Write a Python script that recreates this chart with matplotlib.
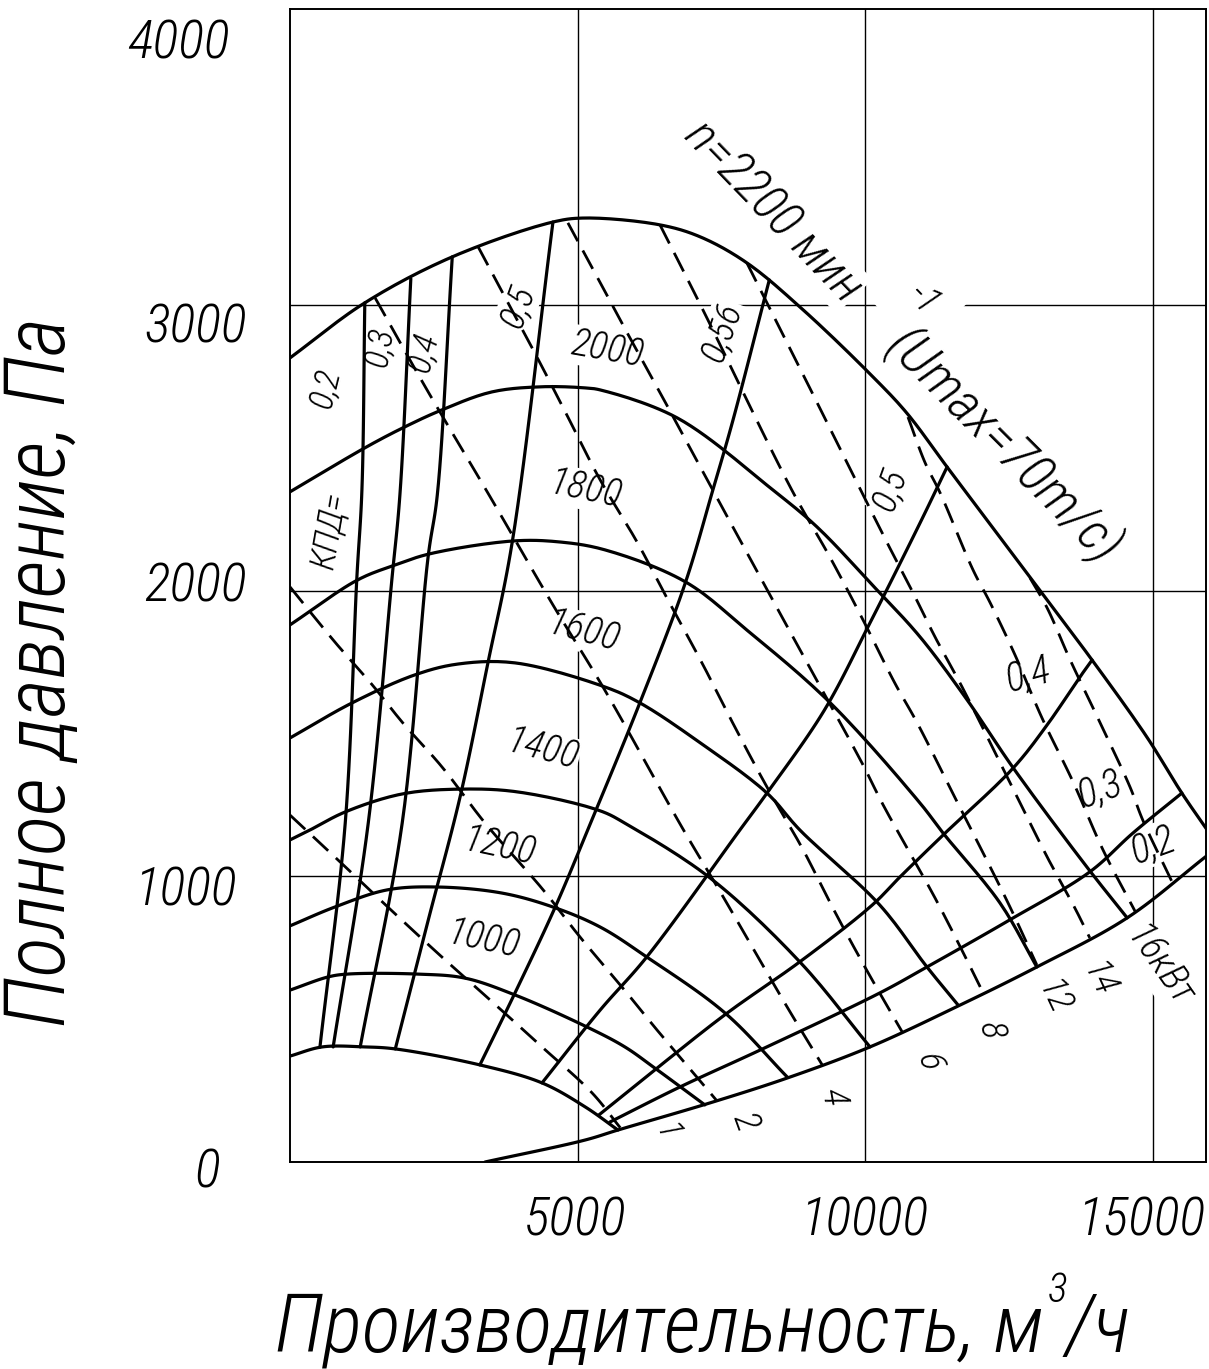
import numpy as np
import matplotlib.pyplot as plt
from matplotlib import font_manager
from matplotlib.transforms import ScaledTranslation

# --- fan characteristic: flow Q, m3/h ; total pressure P, Pa ---

# pressure curves at constant speed, rpm
q_n2200 = [0, 1300, 2820, 4570, 5130, 6430, 7130, 7940, 8920, 10130, 10720, 11420, 12110, 13160, 13940, 14890, 15500, 15940]
p_n2200 = [2816, 3009, 3170, 3292, 3306, 3282, 3240, 3149, 2984, 2750, 2623, 2434, 2249, 1968, 1758, 1489, 1292, 1163]
q_n2000 = [0, 1300, 1960, 2640, 3510, 4380, 5130, 5390, 6730, 8390, 9160, 10120, 10950, 11770, 12570, 13850, 14550]
p_n2000 = [2347, 2501, 2571, 2634, 2697, 2715, 2711, 2704, 2606, 2354, 2224, 2021, 1839, 1618, 1380, 1033, 855]
q_n1800 = [0, 1180, 1830, 2430, 3880, 4660, 5470, 6870, 7940, 9390, 10950, 11350, 12340, 12980]
p_n1800 = [1881, 2039, 2091, 2130, 2175, 2172, 2144, 2032, 1863, 1608, 1257, 1152, 907, 683]
q_n1600 = [0, 1080, 2170, 2920, 3910, 5470, 6080, 7130, 8290, 8860, 10250, 11070, 11610]
p_n1600 = [1485, 1608, 1706, 1744, 1748, 1664, 1608, 1468, 1292, 1163, 900, 683, 550]
q_n1400 = [0, 350, 960, 1950, 2990, 3960, 5390, 5860, 7300, 8860, 10080]
p_n1400 = [1128, 1163, 1226, 1289, 1306, 1296, 1230, 1182, 995, 701, 403]
q_n1200 = [0, 780, 1690, 2570, 3680, 4570, 5390, 6200, 7560, 8640]
p_n1200 = [827, 893, 953, 963, 942, 893, 823, 718, 522, 298]
q_n1000 = [0, 660, 990, 2230, 3040, 3910, 5160, 5820, 6340, 7210]
p_n1000 = [602, 648, 658, 658, 644, 585, 473, 403, 329, 200]
q_n800 = [0, 560, 1300, 1830, 3300, 4380, 5130, 5700]
p_n800 = [371, 403, 403, 396, 340, 277, 193, 112]

speed_labels = ['2000', '1800', '1600', '1400', '1200', '1000']

# efficiency isolines, left branch
q_eta02l = [520, 960, 1160, 1250, 1300]
p_eta02l = [402, 1187, 2039, 2354, 3009]
q_eta03l = [750, 1360, 1770, 1910, 2100]
p_eta03l = [403, 1187, 2039, 2336, 3094]
q_eta04l = [1220, 1950, 2400, 2560, 2820]
p_eta04l = [403, 1187, 2119, 2336, 3170]
q_eta05l = [1830, 2400, 2960, 3440, 3860, 4570]
p_eta05l = [396, 845, 1282, 1748, 2168, 3292]

# efficiency isolines, right branch
q_eta056 = [3300, 3910, 4610, 5230, 6080, 6870, 7350, 7700, 8330]
p_eta056 = [340, 592, 893, 1190, 1608, 2028, 2354, 2599, 3089]
q_eta05r = [4380, 5390, 6200, 7820, 8290, 9280, 10080, 10950, 11420]
p_eta05r = [277, 532, 718, 1163, 1292, 1580, 1888, 2238, 2434]
q_eta04r = [5370, 6380, 7600, 8860, 10120, 10600, 11350, 12570, 13160, 13730, 13940]
p_eta04r = [165, 329, 522, 701, 900, 998, 1145, 1380, 1531, 1699, 1758]
q_eta03r = [5560, 6780, 8170, 10250, 11070, 12510, 13900, 14650, 15500]
p_eta03r = [140, 263, 392, 592, 683, 848, 1016, 1152, 1292]
q_eta02r = [3390, 5130, 5700, 7300, 8640, 10080, 11650, 12980, 14550, 15950]
p_eta02r = [0, 77, 112, 207, 294, 403, 550, 683, 855, 1075]

# shaft power isolines, kW
q_pw1 = [0, 870, 1700, 2640, 3480, 4380, 5250, 5740]
p_pw1 = [1215, 1051, 893, 718, 567, 403, 242, 120]
q_pw2 = [0, 780, 1430, 1960, 2640, 3390, 4400, 5040, 5770, 6380, 7070, 7420]
p_pw2 = [2014, 1821, 1671, 1538, 1384, 1187, 953, 788, 613, 462, 298, 214]
q_pw4 = [1480, 2350, 3480, 4570, 5470, 6810, 7530, 8640, 9250]
p_pw4 = [3026, 2715, 2329, 1951, 1653, 1173, 928, 543, 340]
q_pw6 = [3270, 3650, 4290, 4830, 5390, 6030, 6570, 7160, 7730, 8290, 8900, 9470, 10050, 10650]
p_pw6 = [3205, 3061, 2820, 2609, 2389, 2172, 1968, 1748, 1524, 1313, 1100, 876, 662, 452]
q_pw8 = [4830, 5300, 5860, 6470, 7470, 8740, 9940, 10310, 11210, 11780, 12040]
p_pw8 = [3289, 3114, 2904, 2680, 2308, 1839, 1398, 1250, 925, 701, 595]
q_pw12 = [6430, 7160, 8720, 9390, 9960, 10510, 10900, 11560, 12480, 12980]
p_pw12 = [3282, 2991, 2354, 2116, 1898, 1678, 1538, 1275, 907, 690]
q_pw14 = [7940, 8640, 9110, 10380, 10830, 11210, 11680, 12690, 13160, 13640, 13900]
p_pw14 = [3149, 2869, 2680, 2168, 1993, 1839, 1664, 1257, 1068, 890, 785]
q_pw16 = [10740, 11040, 11300, 11870, 12170, 12600, 13070, 13610, 14130, 14690]
p_pw16 = [2609, 2448, 2343, 2074, 1958, 1776, 1555, 1331, 1093, 877]
q_pw_edge = [12860, 13160, 13560, 14080, 14600, 14820, 15330]
p_pw_edge = [2046, 1940, 1758, 1538, 1313, 1198, 981]

x_ticks = [5000, 10000, 15000]
y_ticks = [0, 1000, 2000, 3000, 4000]


# narrow face if there is one; font sizes below are for narrow metrics
installed = {f.name for f in font_manager.fontManager.ttflist}
face, k = 'Liberation Sans', 0.83
for name, scale in [('Liberation Sans Narrow', 1.0), ('Roboto Condensed', 0.93),
                    ('Open Sans Condensed', 0.95)]:
    if name in installed:
        face, k = name, scale
        break
plt.rcParams['font.family'] = [face, 'DejaVu Sans']
plt.rcParams['font.style'] = 'italic'
plt.rcParams['font.weight'] = 'light'


def smooth(q, p, n=14):
    # centripetal Catmull-Rom through the read points, in near-isotropic units
    pts = np.column_stack([np.asarray(q, float) * 0.0575, np.asarray(p, float) * 0.285])
    pts = np.vstack([2 * pts[0] - pts[1], pts, 2 * pts[-1] - pts[-2]])
    out = []
    for i in range(len(pts) - 3):
        P0, P1, P2, P3 = pts[i:i + 4]
        t0 = 0.0
        t1 = t0 + np.linalg.norm(P1 - P0) ** 0.5 + 1e-9
        t2 = t1 + np.linalg.norm(P2 - P1) ** 0.5 + 1e-9
        t3 = t2 + np.linalg.norm(P3 - P2) ** 0.5 + 1e-9
        t = np.linspace(t1, t2, n, endpoint=False)[:, None]
        A1 = (t1 - t) / (t1 - t0) * P0 + (t - t0) / (t1 - t0) * P1
        A2 = (t2 - t) / (t2 - t1) * P1 + (t - t1) / (t2 - t1) * P2
        A3 = (t3 - t) / (t3 - t2) * P2 + (t - t2) / (t3 - t2) * P3
        B1 = (t2 - t) / (t2 - t0) * A1 + (t - t0) / (t2 - t0) * A2
        B2 = (t3 - t) / (t3 - t1) * A2 + (t - t1) / (t3 - t1) * A3
        out.append((t2 - t) / (t2 - t1) * B1 + (t - t1) / (t2 - t1) * B2)
    out.append(pts[-2][None])
    out = np.vstack(out)
    return out[:, 0] / 0.0575, out[:, 1] / 0.285


W, H = 1209, 1369
fig = plt.figure(figsize=(W / 100, H / 100), dpi=100)
ax = fig.add_axes([290 / W, 1 - 1162 / H, (1206 - 290) / W, (1162 - 9) / H])
ax.set_xlim(0, 15920)
ax.set_ylim(0, 4038)

ax.set_xticks(x_ticks)
ax.set_yticks(y_ticks)
ax.set_xticklabels([str(v) for v in x_ticks])
ax.set_yticklabels([str(v) for v in y_ticks])
ax.tick_params(length=0, labelsize=42 * k)
ax.tick_params(axis='x', pad=24)
ax.tick_params(axis='y', pad=36)
ax.set_axisbelow(True)
ax.grid(True, color='black', lw=1.0)
ax.yaxis.get_gridlines()[-1].set_visible(False)

# hand-lettered labels sit a little off their grid lines
for lbl, (dx, dy) in zip(ax.get_yticklabels(), [(-20, 5), (-3, 9), (7, -9), (7, 17), (-10, 19)]):
    lbl.set_transform(lbl.get_transform() + ScaledTranslation(dx / 100, -dy / 100, fig.dpi_scale_trans))
for lbl, dx in zip(ax.get_xticklabels(), [-3, -1, -12]):
    lbl.set_transform(lbl.get_transform() + ScaledTranslation(dx / 100, 0, fig.dpi_scale_trans))
for s in ax.spines.values():
    s.set_linewidth(1.4)

solid = dict(color='black', lw=2.3, zorder=3, solid_capstyle='round')
dashed = dict(color='black', lw=2.0, zorder=3, dashes=(7.5, 3.8))

speed_curves = [(q_n2200, p_n2200), (q_n2000, p_n2000), (q_n1800, p_n1800), (q_n1600, p_n1600),
                (q_n1400, p_n1400), (q_n1200, p_n1200), (q_n1000, p_n1000), (q_n800, p_n800)]
eta_lines = [(q_eta02l, p_eta02l), (q_eta03l, p_eta03l), (q_eta04l, p_eta04l), (q_eta05l, p_eta05l),
             (q_eta056, p_eta056), (q_eta05r, p_eta05r), (q_eta04r, p_eta04r), (q_eta03r, p_eta03r),
             (q_eta02r, p_eta02r)]
power_lines = [(q_pw1, p_pw1), (q_pw2, p_pw2), (q_pw4, p_pw4), (q_pw6, p_pw6), (q_pw8, p_pw8),
               (q_pw12, p_pw12), (q_pw14, p_pw14), (q_pw16, p_pw16), (q_pw_edge, p_pw_edge)]

for q, p in speed_curves + eta_lines:
    ax.plot(*smooth(q, p), **solid)
for q, p in power_lines:
    ax.plot(*smooth(q, p), **dashed)


def note(s, q, p, rot, size=28, pad=1.0):
    ax.text(q, p, s, rotation=rot, fontsize=size * k, ha='center', va='center',
            rotation_mode='anchor', zorder=2,
            bbox=dict(facecolor='white', edgecolor='none', pad=pad))


# speed labels
for s, (q, p, r) in zip(speed_labels, [(5510, 2844, -10), (5130, 2354, -12), (5090, 1856, -15),
                                       (4380, 1443, -15), (3630, 1103, -12), (3350, 778, -12)]):
    note(s, q, p, r, 30)

note('n=2200 мин', 8390, 3327, -46, 39)
note('-1', 11000, 3020, -46, 30, pad=14)
note('(Umax=70m/c)', 12390, 2504, -45, 42)

# efficiency labels
note('КПД=', 700, 2214, 80, 27)
note('0,2', 610, 2711, 76, 27)
note('0,3', 1560, 2855, 80, 27)
note('0,4', 2310, 2837, 76, 27)
note('0,5', 3960, 2995, 70, 29)
note('0,56', 7510, 2907, 70, 29)
note('0,5', 10430, 2354, 70, 29)
note('0,4', 12830, 1706, 15, 31)
note('0,3', 14080, 1303, 20, 31)
note('0,2', 15000, 1110, 20, 31)

# power labels
note('1', 6520, 102, -70, 26)
note('2', 7910, 140, -70, 28)
note('4', 9440, 228, -80, 28)
note('6', 11090, 350, -80, 28)
note('8', 12170, 462, -80, 28)
note('12', 13260, 574, -65, 28)
note('14', 14030, 637, -65, 28)
note('16кВт', 15090, 683, -55, 30)

fig.text(42 / W, 1 - 672 / H, 'Полное давление, Па', rotation=90, ha='center', va='center',
         fontsize=65.5 * k)
xl = fig.text(275 / W, 1 - 1352 / H, 'Производительность, м', ha='left', va='baseline',
              fontsize=63 * k)
fig.canvas.draw()
x_end = xl.get_window_extent(fig.canvas.get_renderer()).x1
fig.text((x_end + 4) / W, 1 - 1302 / H, '3', ha='left', va='baseline', fontsize=32 * k)
fig.text((x_end + 22) / W, 1 - 1352 / H, '/ч', ha='left', va='baseline', fontsize=63 * k)

fig.savefig('out.png', dpi=100, facecolor='white')
